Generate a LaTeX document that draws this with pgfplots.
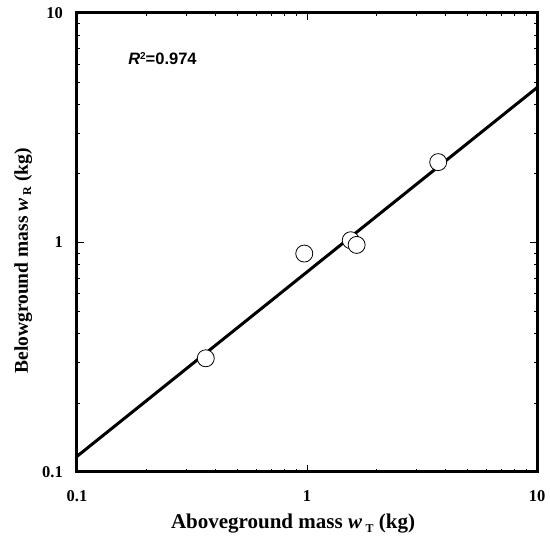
\documentclass[border=0pt]{standalone}
\usepackage{fontspec}
\setmainfont{Liberation Serif}
\newfontfamily\arialfont{Liberation Sans}
\usepackage{pgfplots}
\pgfplotsset{compat=1.18}
\begin{document}
\begin{tikzpicture}
\begin{axis}[
  scale only axis,
  width=460pt, height=459pt,
  xmode=log, ymode=log,
  xmin=0.1, xmax=10, ymin=0.1, ymax=10,
  axis line style={line width=3pt},
  xtick={0.1,1,10}, ytick={0.1,1,10},
  xticklabels={0.1,1,10}, yticklabels={0.1,1,10},
  minor xtick={}, minor ytick={},
  major tick length=7pt,
  tick style={line width=0.8pt, black},
  tick align=inside,
  xticklabel style={font=\fontsize{16.5}{16.5}\selectfont\bfseries, inner sep=0pt, yshift=-18pt, anchor=north},
  yticklabel style={font=\fontsize{16.5}{16.5}\selectfont\bfseries, inner sep=0pt, xshift=-14pt, anchor=east},
  clip=false,
]
\addplot[black, line width=3pt, no marks] coordinates {(0.1,0.117) (10,4.73)};
\addplot[only marks, mark=*, mark size=8.5pt, mark options={fill=white, draw=black, line width=0.8pt}]
  coordinates {(0.363,0.313) (0.973,0.895) (1.55,1.023) (1.644,0.976) (3.72,2.24)};
\coordinate (SW) at (rel axis cs:0,0);
\coordinate (NE) at (rel axis cs:1,1);
\node[anchor=base, yshift=-57pt, inner sep=0pt, font=\fontsize{21}{21}\selectfont\bfseries]
  at (rel axis cs:0.4696,0) {Aboveground mass \textit{w}\,\raisebox{-0.35ex}{\fontsize{12}{12}\selectfont T} (kg)};
\node[anchor=base, rotate=90, inner sep=0pt, font=\fontsize{19.5}{19.5}\selectfont\bfseries]
  at ([xshift=-49pt]rel axis cs:0,0.46) {Belowground mass \textit{w}\,\raisebox{-0.35ex}{\fontsize{12}{12}\selectfont R} (kg)};
\node[anchor=base west, inner sep=0pt, font=\arialfont\fontsize{16.5}{16.5}\selectfont\bfseries]
  at ([yshift=-52pt]rel axis cs:0.111,1) {\textit{R}\raisebox{0.6ex}{\fontsize{10}{10}\selectfont 2}=0.974};
\end{axis}
\pgfresetboundingbox
\path[use as bounding box] ([shift={(-77pt,-65pt)}]SW) rectangle ([shift={(13pt,13pt)}]NE);
\end{tikzpicture}
\end{document}
